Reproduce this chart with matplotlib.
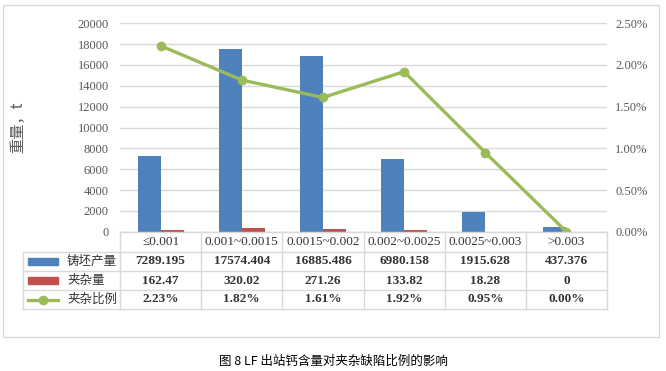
import matplotlib
matplotlib.use("Agg")
import matplotlib.pyplot as plt
from matplotlib.lines import Line2D
from matplotlib.patches import Rectangle
import numpy as np

categories = ["≤0.001", "0.001~0.0015", "0.0015~0.002", "0.002~0.0025", "0.0025~0.003", ">0.003"]
production = [7289.195, 17574.404, 16885.486, 6980.158, 1915.628, 437.376]
production_labels = ["7289.195", "17574.404", "16885.486", "6980.158", "1915.628", "437.376"]
inclusion = [162.47, 320.02, 271.26, 133.82, 18.28, 0]
inclusion_labels = ["162.47", "320.02", "271.26", "133.82", "18.28", "0"]
ratio = [0.0223, 0.0182, 0.0161, 0.0192, 0.0095, 0.0000]
series_names = ["铸坯产量", "夹杂量", "夹杂比例"]
left_ticks = [0, 2000, 4000, 6000, 8000, 10000, 12000, 14000, 16000, 18000, 20000]
right_ticks = [0, 0.005, 0.01, 0.015, 0.02, 0.025]

BLUE = "#4F81BD"
RED = "#C0504D"
GREEN = "#9BBB59"
GRID = "#D9D9D9"
TICKC = "#595959"
TXT = "#333333"

W, H = 666, 371
fig = plt.figure(figsize=(W / 100, H / 100), dpi=100)

def fx(x):
    return x / W

def fy(y):
    return 1 - y / H

L, R, T, B = 120, 607, 23.3, 231.7
ax = fig.add_axes([fx(L), fy(B), (R - L) / W, (B - T) / H])
ax2 = ax.twinx()

n = len(categories)
x = np.arange(n)
bw = 0.283
ax.bar(x - bw / 2, production, width=bw, color=BLUE, zorder=3)
ax.bar(x + bw / 2, inclusion, width=bw, color=RED, zorder=3)
ax.set_xlim(-0.5, n - 0.5)
ax.set_ylim(0, 20000)
ax.set_yticks(left_ticks)
ax.set_yticklabels([str(t) for t in left_ticks], family="Liberation Serif", fontsize=9, color=TICKC)
ax.grid(axis="y", color=GRID, linewidth=1, zorder=0)
ax.set_axisbelow(True)
ax.set_xticks([])
for s in ["top", "left", "right"]:
    ax.spines[s].set_visible(False)
ax.spines["bottom"].set_color(GRID)
ax.tick_params(axis="y", length=0, pad=8)

ax2.plot(x, ratio, color=GREEN, linewidth=2.4, marker="o", markersize=6, zorder=5)
ax2.set_ylim(0, 0.025)
ax2.set_yticks(right_ticks)
ax2.set_yticklabels(["%.2f%%" % (t * 100) for t in right_ticks], family="Liberation Serif", fontsize=9, color=TICKC)
ax2.tick_params(axis="y", length=0, pad=6)
for s in ["top", "left", "right", "bottom"]:
    ax2.spines[s].set_visible(False)
ax2.set_zorder(ax.get_zorder() + 1)
ax.patch.set_visible(False)

# y label
fig.text(fx(18), fy(127), "重量，t", rotation=90, ha="center", va="center",
         family=["Noto Sans CJK SC", "DejaVu Sans"], fontsize=11, color=TICKC)

# outer border
fig.patches.append(Rectangle((fx(3), fy(337)), (659 - 3) / W, (337 - 5) / H,
                             transform=fig.transFigure, fill=False, edgecolor=GRID, linewidth=1))

# data table
col_edges = [L + (R - L) * i / n for i in range(n + 1)]
row_edges = [B, 251.7, 271.0, 290.0, 309.0]
TL = 23
def hline(y, x0, x1):
    fig.lines.append(Line2D([fx(x0), fx(x1)], [fy(y), fy(y)], transform=fig.transFigure, color=GRID, linewidth=1))
def vline(xp, y0, y1):
    fig.lines.append(Line2D([fx(xp), fx(xp)], [fy(y0), fy(y1)], transform=fig.transFigure, color=GRID, linewidth=1))

hline(row_edges[0], L, R)
for y in row_edges[1:]:
    hline(y, TL, R)
vline(TL, row_edges[1], row_edges[-1])
for xe in col_edges:
    vline(xe, row_edges[0], row_edges[-1])

centers = [(col_edges[i] + col_edges[i + 1]) / 2 for i in range(n)]
rc = [(row_edges[i] + row_edges[i + 1]) / 2 for i in range(4)]
for i, c in enumerate(categories):
    fig.text(fx(centers[i]), fy(rc[0]), c, ha="center", va="center",
             family=["Liberation Serif", "DejaVu Sans"], fontsize=9.5, color=TXT)
row_vals = [production_labels, inclusion_labels, ["%.2f%%" % (r * 100) for r in ratio]]
for r, vals in enumerate(row_vals):
    for i, v in enumerate(vals):
        fig.text(fx(centers[i]), fy(rc[r + 1]), v, ha="center", va="center",
                 family="Liberation Serif", fontsize=9.5, fontweight="bold", color=TXT)

# legend keys
fig.patches.append(Rectangle((fx(28), fy(rc[1] + 3.5)), 30 / W, 7 / H, transform=fig.transFigure, color=BLUE))
fig.patches.append(Rectangle((fx(28), fy(rc[2] + 3.5)), 30 / W, 7 / H, transform=fig.transFigure, color=RED))
fig.lines.append(Line2D([fx(28), fx(58)], [fy(rc[3]), fy(rc[3])], transform=fig.transFigure,
                        color=GREEN, linewidth=2.4))
fig.lines.append(Line2D([fx(43)], [fy(rc[3])], transform=fig.transFigure, color=GREEN,
                        marker="o", markersize=6, linestyle="none"))
for r, name in enumerate(series_names):
    fig.text(fx(67), fy(rc[r + 1]), name, ha="left", va="center",
             family=["Noto Sans CJK SC", "DejaVu Sans"], fontsize=9, color=TXT)

# caption
fig.text(fx(333), fy(361), "图 8 LF 出站钙含量对夹杂缺陷比例的影响", ha="center", va="center",
         family=["Noto Sans CJK SC", "DejaVu Sans"], fontsize=9, color="black")

fig.savefig("out.png", dpi=100)
